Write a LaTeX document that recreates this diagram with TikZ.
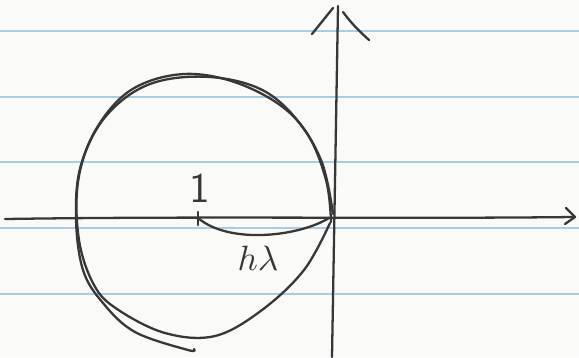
\documentclass[tikz,border=0pt]{standalone}
\usepackage{tikz}
\usetikzlibrary{positioning, arrows.meta, calc}
\definecolor{ruleBlue}{RGB}{170,205,228}
\definecolor{penGrey}{RGB}{55,55,55}
\definecolor{paperWhite}{RGB}{250,250,248}

\begin{document}
\begin{tikzpicture}[
  x=0.01cm, y=-0.01cm,
  ruling/.style={ruleBlue, line width=0.45pt},
  pen/.style={penGrey, line width=0.65pt, line cap=round, line join=round},
  lbl/.style={penGrey, inner sep=0pt},
]
  \fill[paperWhite] (0,0) rectangle (579,357);
  \useasboundingbox (0,0) rectangle (579,357);
  % ruled lines of the paper
  \foreach \yy in {31,97,162,228,294}
    \draw[ruling] (0,\yy) -- (579,\yy);

  % axes
  \coordinate (reL) at (5,219);
  \coordinate (reR) at (573,217);
  \coordinate (imB) at (332,357);
  \coordinate (imT) at (338,6);
  \draw[pen] (reL) .. controls (200,216) and (400,219) .. (reR);
  \draw[pen] (imB) -- (imT);
  \draw[pen] ($(reR)+(-7,-9)$) -- ($(reR)+(2,0)$) -- ($(reR)+(-8,7)$);
  \draw[pen] (312,34) -- (333,8);
  \draw[pen] (343,12) .. controls (352,24) and (358,30) .. (369,40);

  % hand-drawn circle, two strokes
  \draw[pen] plot[smooth, tension=0.6] coordinates {
    (331,222) (326,180) (306,132) (266,92) (210,77) (150,84) (106,116)
    (81,165) (76,218) (83,270) (103,303) (135,332) (188,350) (194,349)};
  \draw[pen] plot[smooth, tension=0.6] coordinates {
    (333,214) (321,160) (291,114) (240,84) (184,74) (131,90) (95,131)
    (78,182) (79,240) (94,285) (117,309) (165,333) (215,336) (262,310)
    (304,270) (330,223)};

  % unit mark and radius arc
  \coordinate (one) at (198,218);
  \draw[pen] ($(one)+(0,-6)$) -- ($(one)+(0,7)$);
  \node[lbl] (oneLbl) at (200,188) {\sffamily\large 1};
  \coordinate (rim) at (329,218);
  \draw[pen] (one) .. controls (230,245) and (300,236) .. (rim);
  \node[lbl] (hlam) at (258,258) {$h\lambda$};
\end{tikzpicture}
\end{document}
